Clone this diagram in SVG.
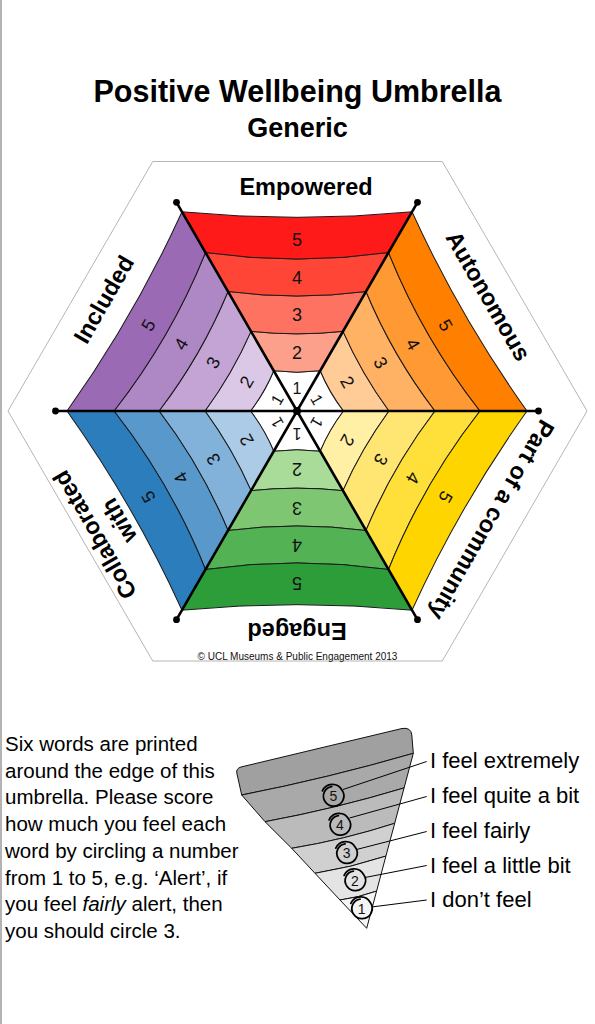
<svg xmlns="http://www.w3.org/2000/svg" xmlns:xlink="http://www.w3.org/1999/xlink" width="595" height="1024" viewBox="0 0 595 1024">
<style>
.band{stroke:#1a1a1a;stroke-width:1;stroke-linejoin:round}
.num{font-family:"Liberation Sans",Arial,sans-serif;font-size:18px;text-anchor:middle;fill:#111}
.one{font-size:16px}
.lbl{font-family:"Liberation Sans",Arial,sans-serif;font-weight:bold;font-size:23.5px;text-anchor:middle;fill:#000}
.spoke{stroke:#000;stroke-width:2.6;stroke-linecap:round}
.dot{fill:#000}
.title{font-family:"Liberation Sans",Arial,sans-serif;font-weight:bold;text-anchor:middle;fill:#000}
.txt{font-family:"Liberation Sans",Arial,sans-serif;font-size:20.5px;fill:#000}
.leg{font-family:"Liberation Sans",Arial,sans-serif;font-size:22px;fill:#000}
.cone{stroke:#111;stroke-width:1;stroke-linejoin:round}
.ring{fill:none;stroke:#000;stroke-width:1.75;stroke-linecap:round}
.cnum{font-family:"Liberation Sans",Arial,sans-serif;font-size:14px;text-anchor:middle;fill:#111}
.lead{stroke:#000;stroke-width:1;fill:none}
</style>
<defs>
<path id="b1" class="band" d="M297,411 L273.75,370.73 Q297,373.73 320.25,370.73 Z"/>
<path id="b2" class="band" d="M251,331.33 Q297,336.33 343,331.33 L320.25,370.73 Q297,373.73 273.75,370.73 Z"/>
<path id="b3" class="band" d="M228,291.49 Q297,300.49 366,291.49 L343,331.33 Q297,336.33 251,331.33 Z"/>
<path id="b4" class="band" d="M205.5,252.52 Q297,265.52 388.5,252.52 L366,291.49 Q297,300.49 228,291.49 Z"/>
<path id="b5" class="band" d="M182,211.82 Q297,222.82 412,211.82 L388.5,252.52 Q297,265.52 205.5,252.52 Z"/>
<path id="loop" class="ring" d="M-10.9,-5.1 A10.8 10.8 0 0 1 8.6,-6 A10.1 10.1 0 0 1 0.9,10.1 A10 10 0 0 1 -8.9,-4.1 A9.5 9.5 0 0 1 -1.6,-9.4"/>
</defs>
<rect x="0" y="0" width="595" height="1024" fill="#fff"/>
<line x1="1" y1="0" x2="1" y2="1024" stroke="#b3b3b3" stroke-width="2"/>

<g id="title">
<text class="title" x="297.5" y="102" font-size="30.5">Positive Wellbeing Umbrella</text>
<text class="title" x="297.5" y="137" font-size="27">Generic</text>
</g>

<g id="frame">
<polygon points="587,411 442.25,661 152.75,661 8,411 152.75,161.5 442.25,161.5" fill="none" stroke="#b5b5b5" stroke-width="1"/>
</g>

<g id="seg-empowered">
<use href="#b1" fill="#ffffff"/><use href="#b2" fill="#fca08c"/><use href="#b3" fill="#fd7260"/><use href="#b4" fill="#ff4636"/><use href="#b5" fill="#ff1a1a"/>
<text class="num one" x="297" y="393.7">1</text><text class="num" x="297" y="359">2</text><text class="num" x="297" y="320.5">3</text><text class="num" x="297" y="283.5">4</text><text class="num" x="297" y="245.5">5</text>
<text class="lbl" x="306" y="195">Empowered</text>
</g>

<g id="seg-autonomous" transform="rotate(60 297 411)">
<use href="#b1" fill="#ffffff"/><use href="#b2" fill="#ffcb96"/><use href="#b3" fill="#ffb264"/><use href="#b4" fill="#ff9933"/><use href="#b5" fill="#ff7f00"/>
<text class="num one" x="297" y="393.7">1</text><text class="num" x="297" y="359">2</text><text class="num" x="297" y="320.5">3</text><text class="num" x="297" y="283.5">4</text><text class="num" x="297" y="245.5">5</text>
<text class="lbl" x="293" y="196">Autonomous</text>
</g>

<g id="seg-community" transform="rotate(120 297 411)">
<use href="#b1" fill="#ffffff"/><use href="#b2" fill="#fff0a6"/><use href="#b3" fill="#ffe672"/><use href="#b4" fill="#ffdf3a"/><use href="#b5" fill="#ffd500"/>
<text class="num one" x="297" y="393.7">1</text><text class="num" x="297" y="359">2</text><text class="num" x="297" y="320.5">3</text><text class="num" x="297" y="283.5">4</text><text class="num" x="297" y="245.5">5</text>
<text class="lbl" x="294" y="196">Part of a community</text>
</g>

<g id="seg-engaged" transform="rotate(180 297 411)">
<use href="#b1" fill="#ffffff"/><use href="#b2" fill="#a9dc98"/><use href="#b3" fill="#7fc672"/><use href="#b4" fill="#52b254"/><use href="#b5" fill="#2d9d3a"/>
<text class="num one" x="297" y="393.7">1</text><text class="num" x="297" y="359">2</text><text class="num" x="297" y="320.5">3</text><text class="num" x="297" y="283.5">4</text><text class="num" x="297" y="245.5">5</text>
<text class="lbl" x="297" y="199">Engaged</text>
</g>

<g id="seg-collaborated" transform="rotate(240 297 411)">
<use href="#b1" fill="#ffffff"/><use href="#b2" fill="#abcbe6"/><use href="#b3" fill="#82b2d9"/><use href="#b4" fill="#5898cb"/><use href="#b5" fill="#2b7dbc"/>
<text class="num one" x="297" y="393.7">1</text><text class="num" x="297" y="359">2</text><text class="num" x="297" y="320.5">3</text><text class="num" x="297" y="283.5">4</text><text class="num" x="297" y="245.5">5</text>
<text class="lbl" x="291" y="182">Collaborated</text>
<text class="lbl" x="291" y="210">with</text>
</g>

<g id="seg-included" transform="rotate(300 297 411)">
<use href="#b1" fill="#ffffff"/><use href="#b2" fill="#dbc8e6"/><use href="#b3" fill="#c3a4d4"/><use href="#b4" fill="#ae88c4"/><use href="#b5" fill="#9b6ab4"/>
<text class="num one" x="297" y="393.7">1</text><text class="num" x="297" y="359">2</text><text class="num" x="297" y="320.5">3</text><text class="num" x="297" y="283.5">4</text><text class="num" x="297" y="245.5">5</text>
<text class="lbl" x="297" y="196">Included</text>
</g>

<g id="connectors">
<line class="spoke" x1="297" y1="411" x2="538.5" y2="411"/>
<line class="spoke" x1="297" y1="411" x2="417.5" y2="619.7"/>
<line class="spoke" x1="297" y1="411" x2="176.5" y2="619.7"/>
<line class="spoke" x1="297" y1="411" x2="55.5" y2="411"/>
<line class="spoke" x1="297" y1="411" x2="176.5" y2="202.3"/>
<line class="spoke" x1="297" y1="411" x2="417.5" y2="202.3"/>
<circle class="dot" cx="538.5" cy="411" r="3.4"/>
<circle class="dot" cx="417.5" cy="619.7" r="3.4"/>
<circle class="dot" cx="176.5" cy="619.7" r="3.4"/>
<circle class="dot" cx="55.5" cy="411" r="3.4"/>
<circle class="dot" cx="176.5" cy="202.3" r="3.4"/>
<circle class="dot" cx="417.5" cy="202.3" r="3.4"/>
<circle class="dot" cx="297" cy="411" r="4"/>
</g>

<g id="copyright">
<text x="297.5" y="660" font-family="Liberation Sans, Arial, sans-serif" font-size="10" text-anchor="middle" fill="#111">© UCL Museums &amp; Public Engagement 2013</text>
</g>

<g id="instructions">
<text class="txt">
<tspan x="5" y="751">Six words are printed</tspan>
<tspan x="5" y="777.7">around the edge of this</tspan>
<tspan x="5" y="804.4">umbrella. Please score</tspan>
<tspan x="5" y="831.1">how much you feel each</tspan>
<tspan x="5" y="857.8">word by circling a number</tspan>
<tspan x="5" y="884.5">from 1 to 5, e.g. ‘Alert’, if</tspan>
<tspan x="5" y="911.2">you feel <tspan font-style="italic">fairly</tspan> alert, then</tspan>
<tspan x="5" y="937.9">you should circle 3.</tspan>
</text>
</g>

<g id="legend-cone">
<path class="cone" fill="#a0a0a0" d="M241.7,795 L236.8,773 Q236,768.5 241,767 L402,728.5 Q411,727 411.8,735 L413.3,753.3 Q328.4,778 241.7,795 Z"/>
<path class="cone" fill="#a9a9a9" d="M241.7,795 Q328.4,778 413.3,753.3 L404.1,787.9 Q335.5,808.7 265,821.7 Z"/>
<path class="cone" fill="#bbbbbb" d="M265,821.7 Q335.5,808.7 404.1,787.9 L394.7,823.3 Q344.1,839.7 291.7,848.3 Z"/>
<path class="cone" fill="#d0d0d0" d="M291.7,848.3 Q344.1,839.7 394.7,823.3 L385.9,856.1 Q351.2,867.6 315,873.3 Z"/>
<path class="cone" fill="#e4e4e4" d="M315,873.3 Q351.2,867.6 385.9,856.1 L376.6,891.1 Q358.8,897.5 340,900 Z"/>
<path class="cone" fill="#f4f4f4" d="M340,900 Q358.8,897.5 376.6,891.1 L366.7,928.3 Z"/>
</g>

<g id="legend-5">
<use href="#loop" transform="translate(333.3 796)"/>
<text class="cnum" x="333.3" y="801">5</text>
<line class="lead" x1="343" y1="789.5" x2="426.7" y2="761.5"/>
<text class="leg" x="430" y="768">I feel extremely</text>
</g>
<g id="legend-4">
<use href="#loop" transform="translate(340 825)"/>
<text class="cnum" x="340" y="830">4</text>
<line class="lead" x1="349.5" y1="818" x2="426.7" y2="796.5"/>
<text class="leg" x="430" y="803">I feel quite a bit</text>
</g>
<g id="legend-3">
<use href="#loop" transform="translate(346.7 853.3)"/>
<text class="cnum" x="346.7" y="858.3">3</text>
<line class="lead" x1="356.5" y1="849.5" x2="426.7" y2="831.5"/>
<text class="leg" x="430" y="838">I feel fairly</text>
</g>
<g id="legend-2">
<use href="#loop" transform="translate(355 880.5)"/>
<text class="cnum" x="355" y="885.5">2</text>
<line class="lead" x1="365" y1="877.5" x2="426.7" y2="865.5"/>
<text class="leg" x="430" y="873">I feel a little bit</text>
</g>
<g id="legend-1">
<use href="#loop" transform="translate(361.7 908.5)"/>
<text class="cnum" x="361.7" y="913.5">1</text>
<line class="lead" x1="371.5" y1="907" x2="426.7" y2="900"/>
<text class="leg" x="430" y="907">I don’t feel</text>
</g>
</svg>
